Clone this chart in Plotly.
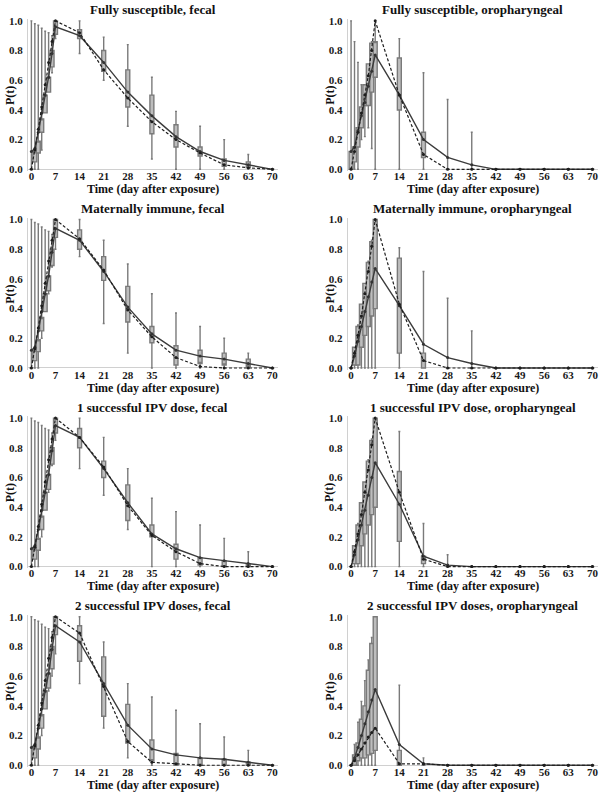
import plotly.graph_objects as go
import numpy as np

DAYS = [0, 1, 2, 3, 4, 5, 6, 7, 14, 21, 28, 35, 42, 49, 56, 63, 70]
X_TICKS = [0, 7, 14, 21, 28, 35, 42, 49, 56, 63, 70]
Y_TICKS = [0.0, 0.2, 0.4, 0.6, 0.8, 1.0]
TITLES = [
    "Fully susceptible, fecal", "Fully susceptible, oropharyngeal",
    "Maternally immune, fecal", "Maternally immune, oropharyngeal",
    "1 successful IPV dose, fecal", "1 successful IPV dose, oropharyngeal",
    "2 successful IPV doses, fecal", "2 successful IPV doses, oropharyngeal",
]
X_LABEL = "Time (day after exposure)"
Y_LABEL = "P(t)"

# ---- Panel 1: Fully susceptible, fecal
fs_fec_lo = [0, 0, 0, 0.13, 0.38, 0.52, 0.65, 0.88, 0.78, 0.60, 0.29, 0.07, 0, 0, 0, 0, 0]
fs_fec_q1 = [0, 0.05, 0.11, 0.25, 0.38, 0.52, 0.69, 0.91, 0.88, 0.66, 0.42, 0.24, 0.15, 0.09, 0.02, 0.01, 0]
fs_fec_q3 = [0, 0.12, 0.19, 0.34, 0.50, 0.62, 0.80, 1.0, 0.94, 0.80, 0.67, 0.50, 0.30, 0.15, 0.07, 0.05, 0]
fs_fec_hi = [1.0, 0.98, 0.97, 0.95, 0.93, 0.92, 0.90, 1.0, 1.0, 0.89, 0.84, 0.62, 0.39, 0.29, 0.20, 0.10, 0]
fs_fec_mean = [0.12, 0.14, 0.25, 0.38, 0.50, 0.62, 0.78, 0.96, 0.90, 0.72, 0.52, 0.36, 0.22, 0.12, 0.06, 0.03, 0]
fs_fec_med = [0, 0.13, 0.27, 0.42, 0.57, 0.72, 0.86, 1.0, 0.92, 0.67, 0.48, 0.32, 0.20, 0.11, 0.03, 0.01, 0]

# ---- Panel 2: Fully susceptible, oropharyngeal
fs_oro_lo = [0, 0, 0, 0.20, 0.22, 0.28, 0.14, 0, 0, 0, 0, 0, 0, 0, 0, 0, 0]
fs_oro_q1 = [0, 0.05, 0.15, 0.28, 0.43, 0.43, 0.52, 0.62, 0.40, 0.08, 0, 0, 0, 0, 0, 0, 0]
fs_oro_q3 = [0.12, 0.15, 0.28, 0.42, 0.57, 0.71, 0.85, 0.86, 0.75, 0.25, 0, 0, 0, 0, 0, 0, 0]
fs_oro_hi = [1.0, 0.86, 0.72, 0.57, 0.57, 0.71, 0.86, 1.0, 0.88, 0.65, 0.47, 0.25, 0, 0, 0, 0, 0]
fs_oro_mean = [0.12, 0.15, 0.26, 0.36, 0.45, 0.56, 0.66, 0.77, 0.50, 0.20, 0.08, 0.03, 0, 0, 0, 0, 0]
fs_oro_med = [0, 0.12, 0.25, 0.38, 0.50, 0.63, 0.80, 1.0, 0.50, 0.10, 0, 0, 0, 0, 0, 0, 0]

# ---- Panel 3: Maternally immune, fecal
mi_fec_lo = [0, 0, 0, 0.20, 0.40, 0.50, 0.68, 0.80, 0.75, 0.30, 0.10, 0, 0, 0, 0, 0, 0]
mi_fec_q1 = [0, 0.05, 0.11, 0.25, 0.38, 0.52, 0.69, 0.88, 0.80, 0.59, 0.31, 0.17, 0.02, 0.03, 0.02, 0.01, 0]
mi_fec_q3 = [0, 0.12, 0.19, 0.34, 0.50, 0.62, 0.80, 1.0, 0.93, 0.75, 0.55, 0.28, 0.15, 0.12, 0.10, 0.06, 0]
mi_fec_hi = [1.0, 0.98, 0.97, 0.95, 0.93, 0.92, 0.90, 1.0, 1.0, 0.86, 0.70, 0.50, 0.37, 0.28, 0.20, 0.10, 0]
mi_fec_mean = [0.12, 0.14, 0.25, 0.38, 0.50, 0.62, 0.78, 0.94, 0.86, 0.65, 0.41, 0.23, 0.12, 0.08, 0.06, 0.03, 0]
mi_fec_med = [0, 0.13, 0.27, 0.42, 0.57, 0.72, 0.86, 1.0, 0.87, 0.66, 0.39, 0.21, 0.07, 0.01, 0, 0, 0]

# ---- Panel 4: Maternally immune, oropharyngeal
mi_oro_lo = [0] * 17
mi_oro_q1 = [0, 0.02, 0.02, 0.14, 0.22, 0.28, 0.35, 0.40, 0.10, 0, 0, 0, 0, 0, 0, 0, 0]
mi_oro_q3 = [0, 0.14, 0.28, 0.43, 0.57, 0.71, 0.85, 1.0, 0.74, 0.10, 0, 0, 0, 0, 0, 0, 0]
mi_oro_hi = [0, 0.14, 0.29, 0.43, 0.57, 0.72, 0.86, 1.0, 0.81, 0.65, 0.47, 0.25, 0, 0, 0, 0, 0]
mi_oro_mean = [0, 0.08, 0.18, 0.28, 0.38, 0.48, 0.58, 0.67, 0.42, 0.16, 0.07, 0.03, 0, 0, 0, 0, 0]
mi_oro_med = [0, 0.10, 0.22, 0.35, 0.50, 0.65, 0.82, 1.0, 0.43, 0.05, 0, 0, 0, 0, 0, 0, 0]

# ---- Panel 5: 1 successful IPV dose, fecal
ipv1_fec_lo = [0, 0, 0, 0.20, 0.40, 0.50, 0.68, 0.85, 0.66, 0.48, 0.25, 0, 0, 0, 0, 0, 0]
ipv1_fec_q1 = [0, 0.05, 0.11, 0.25, 0.38, 0.52, 0.69, 0.90, 0.80, 0.60, 0.31, 0.20, 0.05, 0.01, 0, 0, 0]
ipv1_fec_q3 = [0, 0.12, 0.19, 0.34, 0.50, 0.62, 0.80, 1.0, 0.93, 0.71, 0.55, 0.28, 0.15, 0.06, 0.04, 0.02, 0]
ipv1_fec_hi = [1.0, 0.98, 0.97, 0.95, 0.93, 0.92, 0.90, 1.0, 1.0, 0.87, 0.66, 0.46, 0.37, 0.28, 0.19, 0.10, 0]
ipv1_fec_mean = [0.12, 0.14, 0.25, 0.38, 0.50, 0.62, 0.78, 0.95, 0.87, 0.66, 0.43, 0.22, 0.12, 0.06, 0.04, 0.02, 0]
ipv1_fec_med = [0, 0.13, 0.27, 0.42, 0.57, 0.72, 0.86, 1.0, 0.87, 0.67, 0.41, 0.21, 0.10, 0.02, 0, 0, 0]

# ---- Panel 6: 1 successful IPV dose, oropharyngeal
ipv1_oro_lo = [0] * 17
ipv1_oro_q1 = [0, 0.02, 0.02, 0.14, 0.22, 0.28, 0.35, 0.40, 0.17, 0.02, 0, 0, 0, 0, 0, 0, 0]
ipv1_oro_q3 = [0, 0.14, 0.28, 0.43, 0.57, 0.71, 0.85, 1.0, 0.64, 0.07, 0, 0, 0, 0, 0, 0, 0]
ipv1_oro_hi = [0, 0.14, 0.29, 0.43, 0.57, 0.72, 0.86, 1.0, 0.91, 0.29, 0.08, 0, 0, 0, 0, 0, 0]
ipv1_oro_mean = [0, 0.08, 0.18, 0.28, 0.38, 0.48, 0.60, 0.70, 0.42, 0.07, 0.01, 0, 0, 0, 0, 0, 0]
ipv1_oro_med = [0, 0.10, 0.22, 0.35, 0.50, 0.65, 0.82, 1.0, 0.50, 0.05, 0, 0, 0, 0, 0, 0, 0]

# ---- Panel 7: 2 successful IPV doses, fecal
ipv2_fec_lo = [0, 0, 0, 0.20, 0.40, 0.50, 0.60, 0.75, 0.55, 0.25, 0.05, 0, 0, 0, 0, 0, 0]
ipv2_fec_q1 = [0, 0.05, 0.11, 0.25, 0.38, 0.52, 0.65, 0.88, 0.70, 0.33, 0.15, 0.03, 0, 0, 0, 0, 0]
ipv2_fec_q3 = [0, 0.12, 0.19, 0.34, 0.50, 0.62, 0.80, 1.0, 0.94, 0.73, 0.41, 0.17, 0.08, 0.05, 0.04, 0.02, 0]
ipv2_fec_hi = [1.0, 0.98, 0.97, 0.95, 0.93, 0.92, 0.90, 1.0, 1.0, 0.83, 0.55, 0.46, 0.37, 0.28, 0.19, 0.10, 0]
ipv2_fec_mean = [0.12, 0.14, 0.25, 0.38, 0.50, 0.62, 0.78, 0.94, 0.83, 0.55, 0.27, 0.11, 0.07, 0.05, 0.04, 0.02, 0]
ipv2_fec_med = [0, 0.13, 0.27, 0.42, 0.57, 0.72, 0.86, 1.0, 0.89, 0.53, 0.16, 0.02, 0.01, 0, 0, 0, 0]

# ---- Panel 8: 2 successful IPV doses, oropharyngeal
ipv2_oro_lo = [0] * 17
ipv2_oro_q1 = [0, 0, 0.03, 0.05, 0.05, 0.07, 0.08, 0.10, 0, 0, 0, 0, 0, 0, 0, 0, 0]
ipv2_oro_q3 = [0, 0.07, 0.15, 0.31, 0.40, 0.64, 0.82, 1.0, 0.10, 0, 0, 0, 0, 0, 0, 0, 0]
ipv2_oro_hi = [0, 0.14, 0.29, 0.43, 0.57, 0.71, 0.86, 1.0, 0.54, 0.05, 0, 0, 0, 0, 0, 0, 0]
ipv2_oro_mean = [0, 0.05, 0.12, 0.20, 0.28, 0.36, 0.44, 0.51, 0.14, 0.01, 0, 0, 0, 0, 0, 0, 0]
ipv2_oro_med = [0, 0.03, 0.07, 0.11, 0.15, 0.19, 0.22, 0.25, 0.01, 0.01, 0, 0, 0, 0, 0, 0, 0]

PANELS = [
    (fs_fec_lo, fs_fec_q1, fs_fec_q3, fs_fec_hi, fs_fec_mean, fs_fec_med),
    (fs_oro_lo, fs_oro_q1, fs_oro_q3, fs_oro_hi, fs_oro_mean, fs_oro_med),
    (mi_fec_lo, mi_fec_q1, mi_fec_q3, mi_fec_hi, mi_fec_mean, mi_fec_med),
    (mi_oro_lo, mi_oro_q1, mi_oro_q3, mi_oro_hi, mi_oro_mean, mi_oro_med),
    (ipv1_fec_lo, ipv1_fec_q1, ipv1_fec_q3, ipv1_fec_hi, ipv1_fec_mean, ipv1_fec_med),
    (ipv1_oro_lo, ipv1_oro_q1, ipv1_oro_q3, ipv1_oro_hi, ipv1_oro_mean, ipv1_oro_med),
    (ipv2_fec_lo, ipv2_fec_q1, ipv2_fec_q3, ipv2_fec_hi, ipv2_fec_mean, ipv2_fec_med),
    (ipv2_oro_lo, ipv2_oro_q1, ipv2_oro_q3, ipv2_oro_hi, ipv2_oro_mean, ipv2_oro_med),
]

W, H = 601, 795
FONT = "Liberation Serif"
X_RANGE = [-1, 71.5]
Y_RANGE = [-0.012, 1.012]
AXIS_GRAY = "#d0d0d0"

# pixel layout
COL_X = [(28.0, 278.0), (348.2, 598.6)]       # x-domain in px
ROW_TOP1 = [17.0, 217.7, 418.3, 619.0]        # pixel y of value 1.0
ROW_H = 150.0
XLABEL_SHIFT = -1                              # px offset of the x tick-label axis

fig = go.Figure()
layout = dict(
    width=W, height=H, autosize=False,
    margin=dict(l=0, r=0, t=0, b=0, pad=0),
    paper_bgcolor="white", plot_bgcolor="white",
    showlegend=False,
    font=dict(family=FONT, color="#1a1a1a", weight="bold"),
)
annotations = []

for i, (lo, q1, q3, hi, mean, med) in enumerate(PANELS):
    row, col = divmod(i, 2)
    k = i + 1
    xa = "x" if k == 1 else f"x{k}"
    ya = "y" if k == 1 else f"y{k}"
    x0, x1 = COL_X[col]
    ytop_px = ROW_TOP1[row] - ROW_H * (Y_RANGE[1] - 1.0)
    ybot_px = ROW_TOP1[row] + ROW_H + ROW_H * (0 - Y_RANGE[0])
    xdom = [x0 / W, x1 / W]
    ydom = [1 - ybot_px / H, 1 - ytop_px / H]

    med_c = list(np.clip(np.array(med), np.array(q1), np.array(q3)))

    fig.add_trace(go.Box(
        x=DAYS, q1=q1, median=med_c, q3=q3, lowerfence=lo, upperfence=hi,
        width=1.15, whiskerwidth=0.5,
        fillcolor="#bdbdbd", line=dict(color="#7a7a7a", width=1.4),
        xaxis=xa, yaxis=ya, hoverinfo="skip", boxpoints=False,
    ))
    fig.add_trace(go.Scatter(
        x=DAYS, y=mean, mode="lines+markers",
        line=dict(color="#3c3c3c", width=1.4),
        marker=dict(size=3, color="#333333"),
        xaxis=xa, yaxis=ya, cliponaxis=False,
    ))
    fig.add_trace(go.Scatter(
        x=DAYS, y=med, mode="lines+markers",
        line=dict(color="#1e1e1e", width=1.2, dash="3px,2px"),
        marker=dict(size=3, color="#1e1e1e"),
        xaxis=xa, yaxis=ya, cliponaxis=False,
    ))

    axkey_x = "xaxis" if k == 1 else f"xaxis{k}"
    axkey_y = "yaxis" if k == 1 else f"yaxis{k}"
    layout[axkey_x] = dict(
        type="linear",
        domain=xdom, range=X_RANGE, anchor="free",
        position=1 - (ybot_px - XLABEL_SHIFT) / H,
        tickmode="array", tickvals=X_TICKS, ticktext=[str(t) for t in X_TICKS],
        showgrid=False, zeroline=False, showline=False,
        ticks="", ticklabelstandoff=-4,
        tickfont=dict(family=FONT, size=11, color="#1a1a1a", weight="bold"),
    )
    layout[axkey_y] = dict(
        type="linear",
        domain=ydom, range=Y_RANGE, anchor=xa,
        tickmode="array", tickvals=Y_TICKS, ticktext=[f"{t:.1f}" for t in Y_TICKS],
        showgrid=False, zeroline=True, zerolinecolor=AXIS_GRAY, zerolinewidth=1,
        showline=True, linecolor=AXIS_GRAY, linewidth=1,
        ticks="", ticklabelstandoff=2,
        tickfont=dict(family=FONT, size=11, color="#1a1a1a", weight="bold"),
    )

    xc = (x0 + x1) / 2 / W
    annotations.append(dict(
        text=TITLES[i], x=xc, y=1 - (ROW_TOP1[row] - 11) / H,
        xref="paper", yref="paper", xanchor="center", yanchor="middle",
        showarrow=False, font=dict(family=FONT, size=13, color="#111", weight="bold"),
    ))
    annotations.append(dict(
        text=X_LABEL, x=xc, y=1 - (ROW_TOP1[row] + ROW_H + 20) / H,
        xref="paper", yref="paper", xanchor="center", yanchor="middle",
        showarrow=False, font=dict(family=FONT, size=12, color="#111", weight="bold"),
    ))
    annotations.append(dict(
        text=Y_LABEL, x=(x0 - 18) / W, y=1 - (ROW_TOP1[row] + ROW_H / 2) / H,
        xref="paper", yref="paper", xanchor="center", yanchor="middle", textangle=-90,
        showarrow=False, font=dict(family=FONT, size=12, color="#111", weight="bold"),
    ))

layout["annotations"] = annotations
fig.update_layout(**layout)
fig.write_html(
    "out.html",
    config={"displayModeBar": False},
    post_script="document.body.style.margin='0';document.body.style.overflow='hidden';",
)
